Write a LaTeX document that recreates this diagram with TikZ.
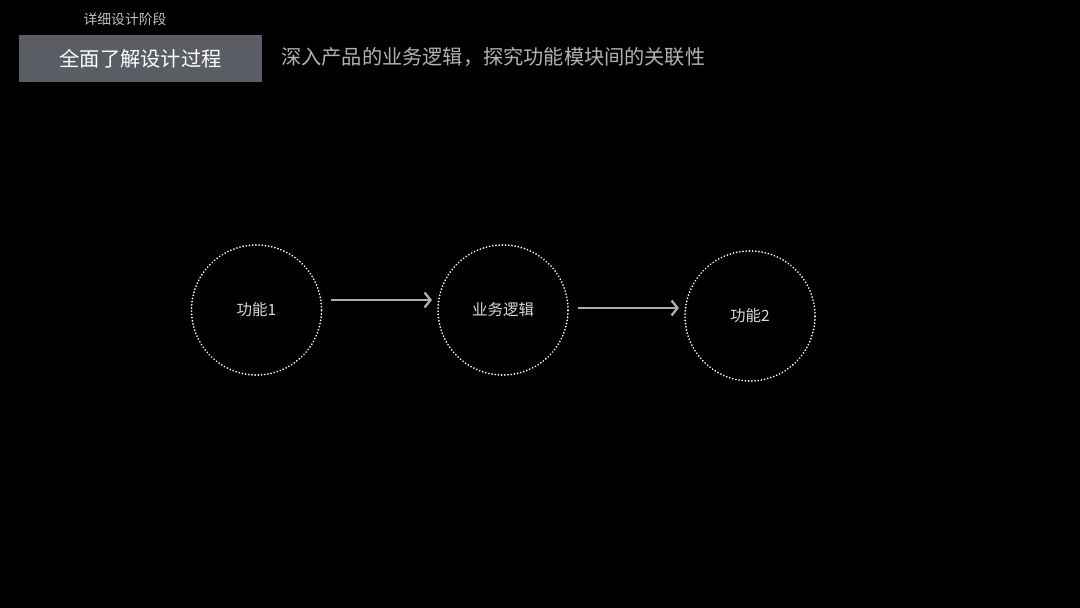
\documentclass[tikz,border=0pt]{standalone}
\usepackage{fontspec}
\setmainfont{Noto Sans CJK SC}
\usetikzlibrary{arrows.meta}
\begin{document}
\begin{tikzpicture}[x=1pt,y=-1pt,
  dotcircle/.style={circle,draw=white,line width=1.9pt,dash pattern=on 0.01pt off 3.2pt,line cap=round,minimum size=130pt,inner sep=0pt,text=white!85!black,font=\fontsize{15.5}{16}\selectfont},
  flow/.style={draw=white!68!black,line width=2.3pt,-{Straight Barb[length=6pt,width=15pt,line width=2.3pt]}}]
\useasboundingbox[fill=black] (0,0) rectangle (1080,608);
\node[minimum width=243pt,minimum height=47pt,inner sep=0pt,anchor=north west,fill={rgb,255:red,90;green,93;blue,99},text=white,font=\fontsize{20.3}{21}\selectfont] (title) at (19,35) {全面了解设计过程};
\node[text=white!75!black,font=\fontsize{13.8}{14}\selectfont] (stage) at (125,19) {详细设计阶段};
\node[anchor=west,inner sep=0pt,text=white!70!black,font=\fontsize{20.2}{21}\selectfont] (sub) at (281,57) {深入产品的业务逻辑，探究功能模块间的关联性};
\node[dotcircle] (c1) at (256.5,310) {功能1};
\node[dotcircle] (c2) at (503,310) {业务逻辑};
\node[dotcircle] (c3) at (750,316) {功能2};
\coordinate (a1s) at (331,300);
\coordinate (a1e) at (432,300);
\coordinate (a2s) at (578,308);
\coordinate (a2e) at (679,308);
\draw[flow] (a1s) -- (a1e);
\draw[flow] (a2s) -- (a2e);
\end{tikzpicture}
\end{document}
